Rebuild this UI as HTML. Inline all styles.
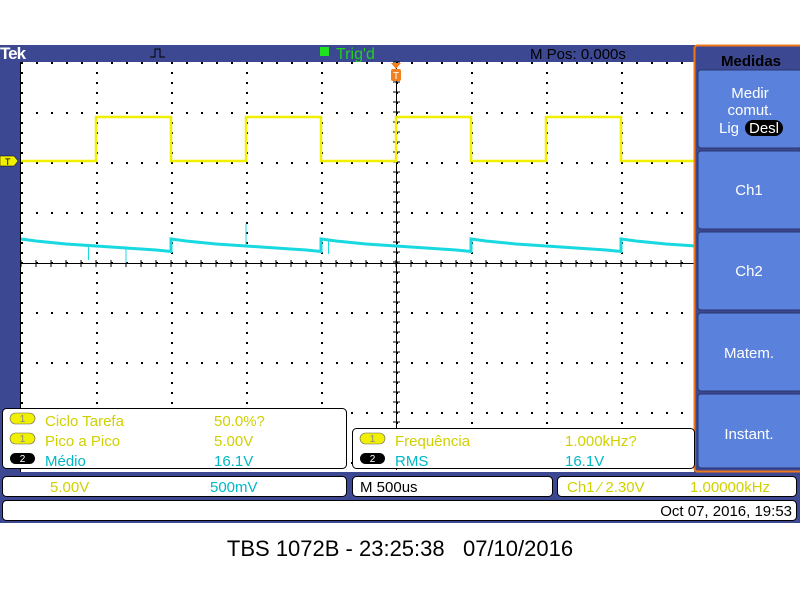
<!DOCTYPE html>
<html><head><meta charset="utf-8"><style>
body{margin:0;width:800px;height:600px;background:#fff;overflow:hidden;font-family:"Liberation Sans",sans-serif}
svg{position:absolute;left:0;top:0}
</style></head><body>
<svg width="800" height="600">
<rect x="0" y="45" width="800" height="478" fill="#3c4891"/>
<text x="0" y="59" font-size="17" font-weight="bold" fill="#fff" letter-spacing="-1">Tek</text>
<path d="M150 57 h5 v-8 h5 v8 h5" stroke="#000" fill="none"/>
<rect x="320" y="47" width="9" height="9" fill="#20e020"/>
<text x="336" y="59" font-size="16" fill="#20d020">Trig'd</text>
<text x="530" y="59" font-size="15" fill="#000">M Pos: 0.000s</text>
<rect x="21" y="62" width="673" height="410" fill="#fff"/>
<line x1="20.5" y1="62" x2="20.5" y2="472" stroke="#000"/>
<g id="grid"></g>
<g id="traces"></g>
<path d="M0 156 h14 l4 5 l-4 5 h-14z" fill="#f0f000" stroke="#000" stroke-width="0.5"/>
<text x="5" y="165" font-size="9" fill="#000">T</text>
<path d="M391 63 h10 l-5 6z" fill="#f08020"/>
<rect x="391" y="69" width="10" height="12" rx="2" fill="#f08020"/>
<text x="393" y="79" font-size="10" fill="#fff">T</text>
<rect x="694.5" y="45.5" width="110" height="426" rx="3" fill="#3c4891" stroke="#f07818" stroke-width="2"/>
<text x="751" y="66" font-size="15" font-weight="bold" fill="#000" text-anchor="middle">Medidas</text>
<g font-size="15" fill="#fff" text-anchor="middle">
<rect x="698" y="70" width="104" height="78" rx="3" fill="#5a82dc" stroke="#2a3570"/>
<text x="750" y="98">Medir</text>
<text x="750" y="115">comut.</text>
<text x="729" y="133">Lig</text>
<rect x="745" y="120" width="38" height="16" rx="8" fill="#000"/>
<text x="764" y="133">Desl</text>
<rect x="698" y="151" width="104" height="78" rx="3" fill="#5a82dc" stroke="#2a3570"/>
<text x="749" y="195">Ch1</text>
<rect x="698" y="232" width="104" height="78" rx="3" fill="#5a82dc" stroke="#2a3570"/>
<text x="749" y="276">Ch2</text>
<rect x="698" y="313" width="104" height="78" rx="3" fill="#5a82dc" stroke="#2a3570"/>
<text x="749" y="358">Matem.</text>
<rect x="698" y="394" width="104" height="74" rx="3" fill="#5a82dc" stroke="#2a3570"/>
<text x="749" y="439">Instant.</text>
</g>
<g font-size="15">
<rect x="2.5" y="408.5" width="344" height="60" rx="4" fill="#fff" stroke="#000"/>
<rect x="352.5" y="428.5" width="342" height="40" rx="4" fill="#fff" stroke="#000"/>
<g font-size="10" text-anchor="middle">
<rect x="10" y="413" width="25" height="11" rx="5.5" fill="#f0f000" stroke="#666" stroke-width="0.6"/><text x="22.5" y="422" fill="#888">1</text>
<rect x="10" y="433" width="25" height="11" rx="5.5" fill="#f0f000" stroke="#666" stroke-width="0.6"/><text x="22.5" y="442" fill="#888">1</text>
<rect x="10" y="453" width="25" height="11" rx="5.5" fill="#000"/><text x="22.5" y="462" fill="#fff">2</text>
<rect x="360" y="433" width="25" height="11" rx="5.5" fill="#f0f000" stroke="#666" stroke-width="0.6"/><text x="372.5" y="442" fill="#888">1</text>
<rect x="360" y="453" width="25" height="11" rx="5.5" fill="#000"/><text x="372.5" y="462" fill="#fff">2</text>
<rect x="11" y="481" width="27" height="12" rx="6" fill="#f0f000" stroke="#666" stroke-width="0.6"/><text x="24.5" y="491" fill="#888">1</text>
<rect x="172" y="481" width="27" height="12" rx="6" fill="#000"/><text x="185.5" y="491" fill="#fff">2</text>
</g>
<text x="45" y="426" fill="#d0d000">Ciclo Tarefa</text>
<text x="214" y="426" fill="#d0d000">50.0%?</text>
<text x="45" y="446" fill="#d0d000">Pico a Pico</text>
<text x="214" y="446" fill="#d0d000">5.00V</text>
<text x="45" y="466" fill="#00b8c8">Médio</text>
<text x="214" y="466" fill="#00b8c8">16.1V</text>
<text x="395" y="446" fill="#d0d000">Frequência</text>
<text x="565" y="446" fill="#d0d000">1.000kHz?</text>
<text x="395" y="466" fill="#00b8c8">RMS</text>
<text x="565" y="466" fill="#00b8c8">16.1V</text>
<rect x="2.5" y="476.5" width="344" height="20" rx="4" fill="#fff" stroke="#000"/>
<text x="50" y="492" fill="#d0d000">5.00V</text>
<text x="210" y="492" fill="#00b8c8">500mV</text>
<rect x="352.5" y="476.5" width="200" height="20" rx="4" fill="#fff" stroke="#000"/>
<text x="360" y="492" fill="#000">M 500us</text>
<rect x="557.5" y="476.5" width="239" height="20" rx="4" fill="#fff" stroke="#000"/>
<text x="567" y="492" fill="#d0d000">Ch1 ⁄ 2.30V</text>
<text x="690" y="492" fill="#d0d000">1.00000kHz</text>
<rect x="2.5" y="500.5" width="794" height="20" rx="4" fill="#fff" stroke="#000"/>
<text x="792" y="516" fill="#000" text-anchor="end">Oct 07, 2016, 19:53</text>
</g>
<text x="400" y="556" font-size="22" fill="#000" text-anchor="middle" xml:space="preserve">TBS 1072B - 23:25:38   07/10/2016</text>
</svg>
<script>
const ch1Low = 2.04, ch1High = 2.92;
const ch1RiseTimes = [-2, -1, 0, 1];
const ch1FallTimes = [-1.5, -0.5, 0.5, 1.5];
const ch2RiseTimes = [-2.5, -1.5, -0.5, 0.5, 1.5];
const ch2Shape = [0.48, 0.44, 0.41, 0.38, 0.36, 0.34, 0.32, 0.30, 0.28, 0.26, 0.23];
const ch2Spikes = [[-2.05, -0.28], [-1.8, -0.3], [-1.0, 0.45], [-0.45, -0.3]];
const NS = 'http://www.w3.org/2000/svg';
const x = t => 396 + t / 0.5 * 75;
const y = d => 263 - d * 50;
const tMin = -2.5, tMax = (694 - 396) / 150;
function mk(tag, attrs, parent){const e=document.createElementNS(NS,tag);for(const k in attrs)e.setAttribute(k,attrs[k]);parent.appendChild(e);return e;}
const grid = document.getElementById('grid');
let dots = '';
for (let k = 0; k <= 9; k++) { const gx = 21 + 75 * k; if (gx > 694) break; for (let gy = 62; gy <= 470; gy += 10) dots += `M${gx} ${gy}h2v2h-2z`; }
for (let k = 0; k <= 8; k++) { const gy = 62 + 50 * k; for (let gx = 21; gx <= 694; gx += 15) dots += `M${gx} ${gy}h2v2h-2z`; }
const gd = mk('path', {d: dots, fill: '#000'}, grid);


const hl = mk('line', {x1: 21, y1: 263.5, x2: 694, y2: 263.5, stroke: '#000'}, grid);


const vl = mk('line', {x1: 396.5, y1: 62, x2: 396.5, y2: 470, stroke: '#000'}, grid);


let ticks = '';
for (let gx = 21; gx <= 694; gx += 15) ticks += `M${gx} 260v7`;
for (let gy = 62; gy <= 470; gy += 10) ticks += `M393 ${gy}h7`;
const tk = mk('path', {d: ticks, stroke: '#000', 'stroke-width': 1}, grid);


const traces = document.getElementById('traces');
const ev = [];
ch1RiseTimes.forEach(t => ev.push([t, ch1High]));
ch1FallTimes.forEach(t => ev.push([t, ch1Low]));
ev.sort((a, b) => a[0] - b[0]);
let lvl = ch1Low, d1 = `M${x(tMin)} ${y(lvl)}`;
ev.forEach(([t, v]) => { d1 += `H${x(t)}V${y(v)}`; lvl = v; });
d1 += `H${x(tMax)}`;
const p1 = mk('path', {d: d1, stroke: '#f0f000', 'stroke-width': 2.5, fill: 'none'}, traces);


let d2 = '';
ch2RiseTimes.forEach((t0, i) => {
  for (let j = 0; j < ch2Shape.length; j++) {
    const t = t0 + j * 0.1;
    if (t > tMax) {
      const prev = ch2Shape[j - 1], v = prev + (ch2Shape[j] - prev) * ((tMax - (t - 0.1)) / 0.1);
      d2 += 'L' + x(tMax) + ' ' + y(v);
      break;
    }
    d2 += (i === 0 && j === 0 ? 'M' : 'L') + x(t) + ' ' + y(ch2Shape[j]);
  }
});
const p2 = mk('path', {d: d2, stroke: '#18d8e0', 'stroke-width': 3, fill: 'none'}, traces);


ch2Spikes.forEach(([t, dv]) => {
  const ph = ((t - tMin) % 1 + 1) % 1; const base = ch2Shape[Math.min(10, Math.round(ph * 10))];
  const s = mk('line', {x1: x(t), y1: y(base), x2: x(t), y2: y(base + dv), stroke: '#18d8e0', 'stroke-width': 1}, traces);
  
  
});
</script>
</body></html>
